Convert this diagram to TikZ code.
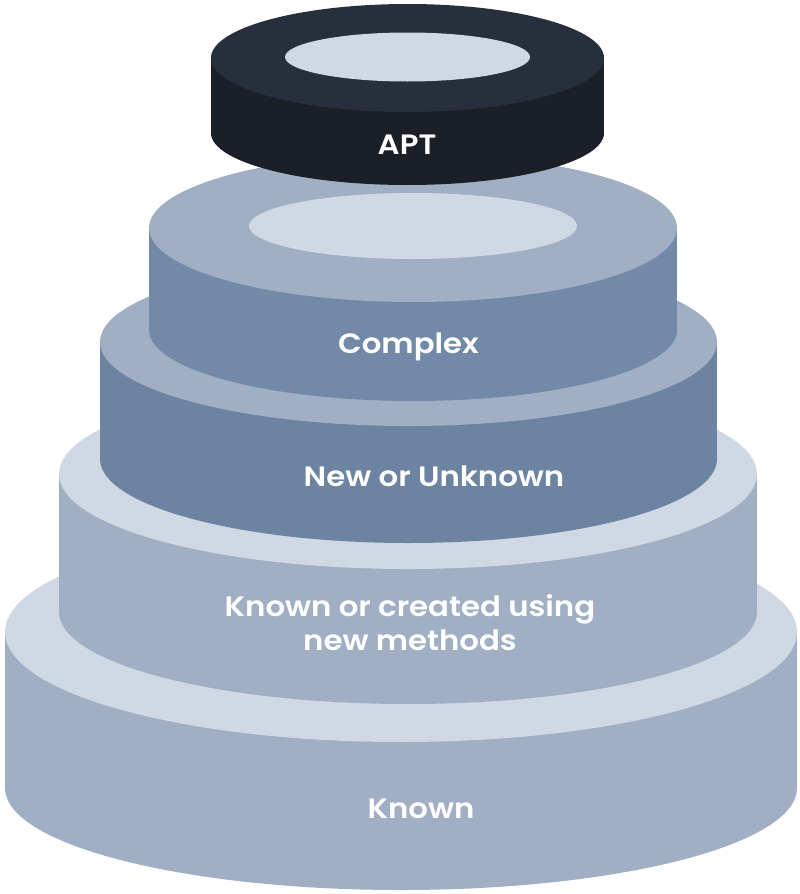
\documentclass[tikz,border=0pt]{standalone}
\usepackage{fontspec}
\newfontfamily\tierfont{Poppins SemiBold}[FakeStretch=1.1]
\usepackage{tikz}
\usetikzlibrary{calc}

\definecolor{tierlight}{HTML}{D0D9E3}
\definecolor{tiermid}{HTML}{A0AFC3}
\definecolor{newside}{HTML}{6C83A1}
\definecolor{complexside}{HTML}{7289A7}
\definecolor{apttop}{HTML}{272E3C}
\definecolor{aptside}{HTML}{1A1F28}

\begin{document}
\begin{tikzpicture}[x=1pt,y=-1pt]
\tikzstyle{label}=[text=white,font=\tierfont\fontsize{28}{34}\selectfont,anchor=base,align=center]
\useasboundingbox (0,0) rectangle (800,894);
% Known
\fill [tiermid] (5,632) rectangle (797,788);
\fill [tiermid] (401,788) ellipse [x radius=396, y radius=102];
\fill [tierlight] (401,632) ellipse [x radius=396, y radius=110];
% Known or created using new methods
\fill [tiermid] (59,474) rectangle (757,612);
\fill [tiermid] (408,612) ellipse [x radius=349, y radius=92];
\fill [tierlight] (408,474) ellipse [x radius=349, y radius=95];
% New or Unknown
\fill [newside] (100,342) rectangle (717,459);
\fill [newside] (408.5,459) ellipse [x radius=308.5, y radius=84];
\fill [tiermid] (408.5,342) ellipse [x radius=308.5, y radius=84];
% Complex
\fill [complexside] (149,228) rectangle (677,330);
\fill [complexside] (413,330) ellipse [x radius=264, y radius=71];
\fill [tiermid] (413,228) ellipse [x radius=264, y radius=74];
\fill [tierlight] (413,226) ellipse [x radius=164, y radius=33];
% APT
\fill [aptside] (211,58) rectangle (604,133);
\fill [aptside] (407.5,133) ellipse [x radius=196.5, y radius=52];
\fill [apttop] (407.5,58) ellipse [x radius=196.5, y radius=54];
\fill [tierlight] (407.5,57) ellipse [x radius=122.5, y radius=24.5];

\node [label] (apt) at (407,154) {APT};
\node [label] (complex) at (408.5,353) {Complex};
\node [label] (new) at (434,486) {New or Unknown};
\node [label] (created) at (410,650) {Known or created using\\new methods};
\node [label] (known) at (421,818) {Known};
\end{tikzpicture}
\end{document}
